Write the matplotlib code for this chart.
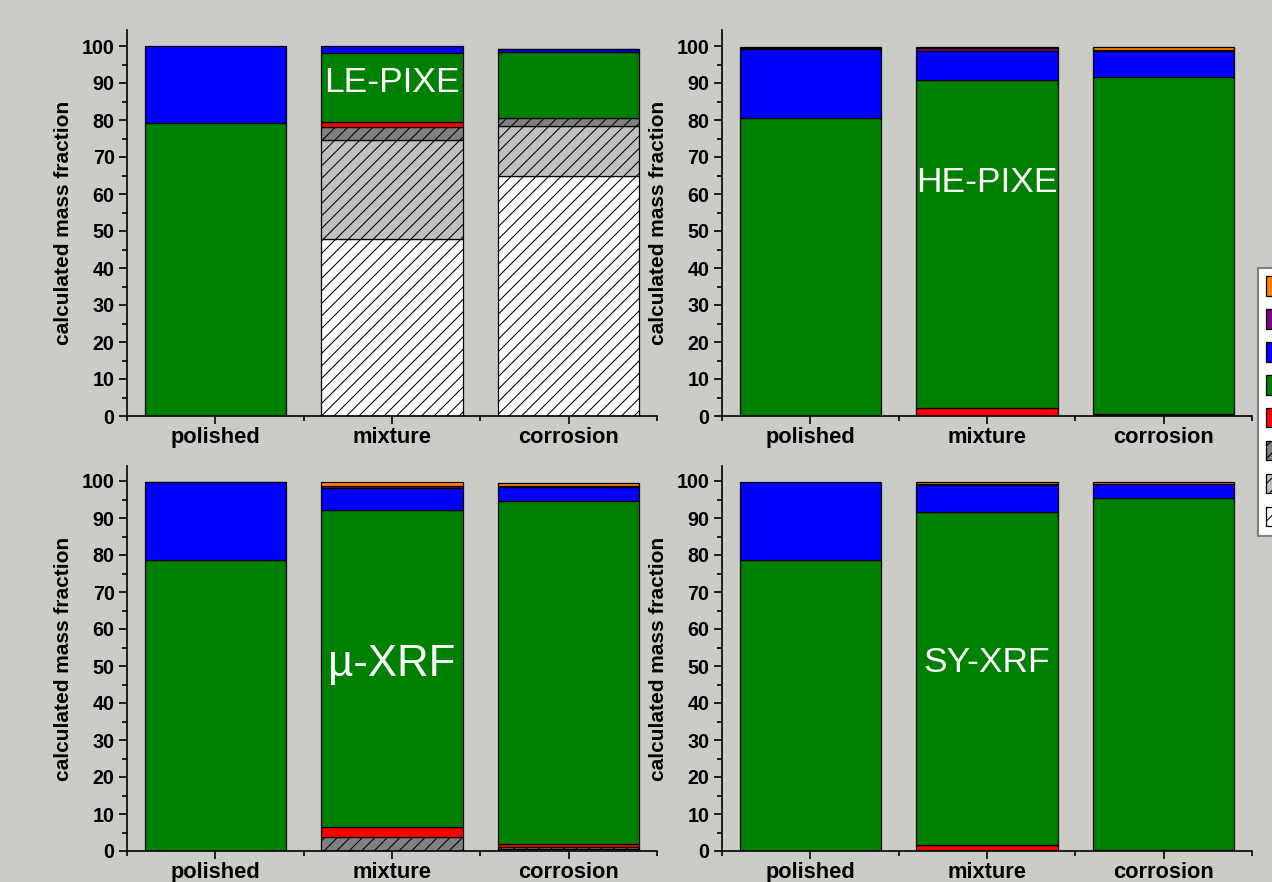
import matplotlib
matplotlib.use("Agg")
import matplotlib.pyplot as plt
from matplotlib.patches import Patch
from matplotlib.ticker import FixedLocator

plt.rcParams["font.family"] = ["Liberation Sans", "DejaVu Sans"]
plt.rcParams["hatch.linewidth"] = 0.5

samples = ["polished", "mixture", "corrosion"]

# component colours / hatches, from bottom of the stack to the top
comp_colors = ["#ffffff", "#c0c0c0", "#808080", "#ff0000", "#008000", "#0000ff", "#800080", "#ff8000"]
comp_hatch = ["////", "////", "////", None, None, None, None, None]

# segment sizes per panel (bottom -> top), one value per sample
le_pixe = [
    [0, 47.8, 64.9],
    [0, 26.8, 13.6],
    [0, 3.6, 2.1],
    [0, 1.3, 0],
    [79.2, 18.7, 17.9],
    [20.8, 1.8, 0.7],
    [0, 0, 0.1],
    [0, 0, 0],
]
he_pixe = [
    [0, 0, 0],
    [0, 0, 0],
    [0, 0, 0],
    [0, 2.2, 0.5],
    [80.5, 88.6, 91.2],
    [18.7, 7.9, 7.0],
    [0.3, 0.8, 0.1],
    [0.2, 0.2, 0.8],
]
mu_xrf = [
    [0, 0, 0],
    [0, 0, 0.6],
    [0, 3.9, 0.6],
    [0, 2.5, 0.8],
    [78.6, 85.7, 92.5],
    [21.0, 5.9, 3.9],
    [0.2, 0.7, 0.3],
    [0, 1.0, 0.8],
]
sy_xrf = [
    [0, 0, 0],
    [0, 0, 0],
    [0, 0, 0],
    [0, 1.6, 0.3],
    [78.6, 89.9, 95.2],
    [21.2, 7.5, 3.7],
    [0, 0.2, 0],
    [0, 0.4, 0.4],
]

panels = [
    (le_pixe, "LE-PIXE", 90, 17),
    (he_pixe, "HE-PIXE", 63, 17),
    (mu_xrf, "µ-XRF", 50.5, 21),
    (sy_xrf, "SY-XRF", 51, 17),
]

W, H = 1272, 882
fig = plt.figure(figsize=(W / 150, H / 150), dpi=150)
fig.patch.set_facecolor("#cbccc8")

# axes rectangles in pixels: left, x-axis y, right, top
rects = [(127, 416, 657, 30), (722, 416, 1252, 30), (127, 851, 657, 466), (722, 851, 1252, 466)]

for (data, name, ty, fs), (l, b, r, t) in zip(panels, rects):
    ax = fig.add_axes([l / W, 1 - b / H, (r - l) / W, (b - t) / H])
    ax.set_facecolor("none")
    x = range(len(samples))
    bottom = [0.0] * len(samples)
    for vals, col, hat in zip(data, comp_colors, comp_hatch):
        for i, v in enumerate(vals):
            if v > 0:
                ax.bar(i, v, 0.8, bottom=bottom[i], color=col, hatch=hat,
                       edgecolor="black", linewidth=0.6, zorder=2)
            bottom[i] += v
    ax.text(1, ty, name, color="white", fontsize=fs, ha="center", va="center", zorder=3)

    ax.set_xlim(-0.5, 2.5)
    ax.set_ylim(0, (b - t) / 3.7)
    ax.set_xticks(list(x))
    ax.set_xticklabels(samples, fontsize=10.5, fontweight="bold")
    ax.xaxis.set_minor_locator(FixedLocator([-0.5, 0.5, 1.5, 2.5]))
    ax.yaxis.set_major_locator(FixedLocator(range(0, 101, 10)))
    ax.yaxis.set_minor_locator(FixedLocator(range(5, 100, 10)))
    for lab in ax.get_yticklabels():
        lab.set_fontweight("bold")
    ax.tick_params(axis="both", which="major", length=4, width=0.8, labelsize=9.5, pad=2)
    ax.tick_params(axis="x", which="major", labelsize=10.5, pad=1.5)
    ax.tick_params(axis="both", which="minor", length=2.2, width=0.8)
    ax.spines["top"].set_visible(False)
    ax.spines["right"].set_visible(False)
    ax.spines["left"].set_linewidth(0.8)
    ax.spines["bottom"].set_linewidth(0.8)
    ax.set_ylabel("calculated mass fraction", fontsize=10, fontweight="bold", labelpad=4)

handles = [Patch(facecolor=c, hatch=h, edgecolor="black", linewidth=0.6)
           for c, h in zip(comp_colors[::-1], comp_hatch[::-1])]
fig.legend(handles, [""] * len(handles), loc="upper left",
           bbox_to_anchor=(1258 / W, 1 - 268 / H), borderaxespad=0,
           frameon=True, fancybox=False,
           edgecolor="#808080", facecolor="white", framealpha=1,
           handlelength=1.0, handleheight=1.06, labelspacing=0.58,
           fontsize=10, borderpad=0.4, handletextpad=3.0)

fig.savefig("out.png", dpi=150, facecolor=fig.get_facecolor())
